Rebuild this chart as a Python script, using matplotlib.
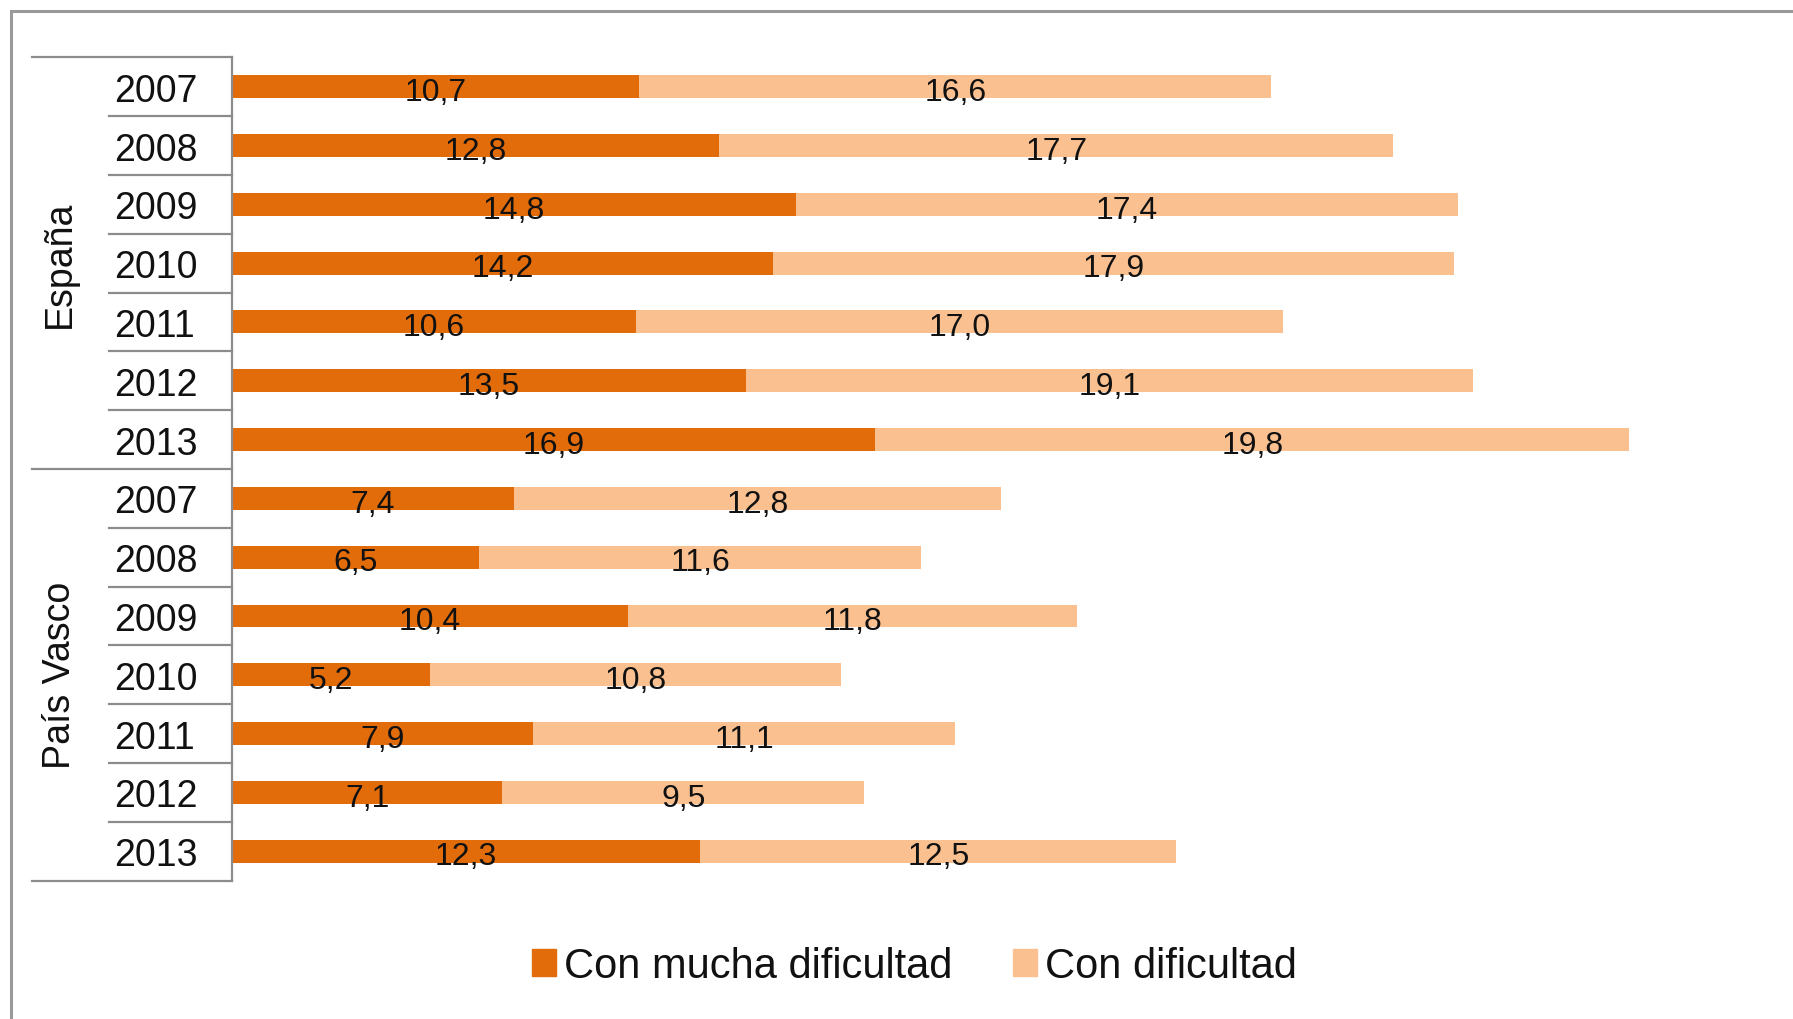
import matplotlib
matplotlib.use("Agg")
import matplotlib.pyplot as plt
from matplotlib.patches import Rectangle
from matplotlib.lines import Line2D
from matplotlib.transforms import blended_transform_factory

plt.rcParams['font.family'] = ['Liberation Sans', 'DejaVu Sans']

groups = ["España", "País Vasco"]
years = ["2007", "2008", "2009", "2010", "2011", "2012", "2013"]
espana_mucha = [10.7, 12.8, 14.8, 14.2, 10.6, 13.5, 16.9]
espana_con = [16.6, 17.7, 17.4, 17.9, 17.0, 19.1, 19.8]
pv_mucha = [7.4, 6.5, 10.4, 5.2, 7.9, 7.1, 12.3]
pv_con = [12.8, 11.6, 11.8, 10.8, 11.1, 9.5, 12.5]
series_names = ["Con mucha dificultad", "Con dificultad"]

c_dark = "#E36C0A"
c_light = "#FAC090"
line_c = "#8c8c8c"

W, H = 1793, 1020
fig = plt.figure(figsize=(W / 100, H / 100), dpi=100)
ax = fig.add_axes([232 / W, 1 - 881.6 / H, 1523 / W, (881.6 - 58.3) / H])

mucha = espana_mucha + pv_mucha
con = espana_con + pv_con
labels = years + years
ypos = list(range(len(mucha)))

ax.barh(ypos, mucha, height=0.39, color=c_dark, label=series_names[0])
ax.barh(ypos, con, left=mucha, height=0.39, color=c_light, label=series_names[1])

def fmt(v):
    return f"{v:.1f}".replace(".", ",")

for y, m, c in zip(ypos, mucha, con):
    ax.text(m / 2, y + 0.03, fmt(m), ha="center", va="center_baseline", fontsize=23, color="#111111")
    ax.text(m + c / 2, y + 0.03, fmt(c), ha="center", va="center_baseline", fontsize=23, color="#111111")

ax.set_xlim(0, 40)
ax.set_ylim(13.5, -0.5)
ax.set_xticks([])
ax.set_yticks(ypos)
ax.set_yticklabels(labels, fontsize=27, color="#111111", ha="left")
ax.tick_params(axis="y", length=0, pad=(232 - 114) / 1.3889)
for s in ["top", "right", "bottom"]:
    ax.spines[s].set_visible(False)
ax.spines["left"].set_color(line_c)
ax.spines["left"].set_linewidth(1.6)

# table lines
tr = blended_transform_factory(fig.transFigure, ax.transData)
x_axis = 232 / W
x_group = 32 / W
x_year = 108.6 / W
for b in [i + 0.5 for i in range(-1, 14)]:
    x0 = x_group if b in (-0.5, 6.5, 13.5) else x_year
    fig.add_artist(Line2D([x0, x_axis], [b, b], transform=tr, color=line_c, lw=1.6, clip_on=False))

# group labels
gcenters = [3, 10]
for g, yc in zip(groups, gcenters):
    ax.text(59.5 / W, yc, g, transform=tr, rotation=90, ha="center", va="center",
            fontsize=27, color="#111111")

# outer border
fig.add_artist(Rectangle((11 / W, -0.2), 1.5, 1 - 12 / H + 0.2, transform=fig.transFigure,
                         fill=False, edgecolor="#9a9a9a", lw=2.2))

handles = [Rectangle((0, 0), 1, 1, color=c_dark), Rectangle((0, 0), 1, 1, color=c_light)]
fig.legend(handles, series_names, loc="center", bbox_to_anchor=(0.51, 0.052), ncol=2,
           frameon=False, fontsize=30, handlelength=0.58, handleheight=0.63,
           handletextpad=0.19, columnspacing=1.45, labelcolor="#111111")

fig.savefig("out.png", dpi=100)
